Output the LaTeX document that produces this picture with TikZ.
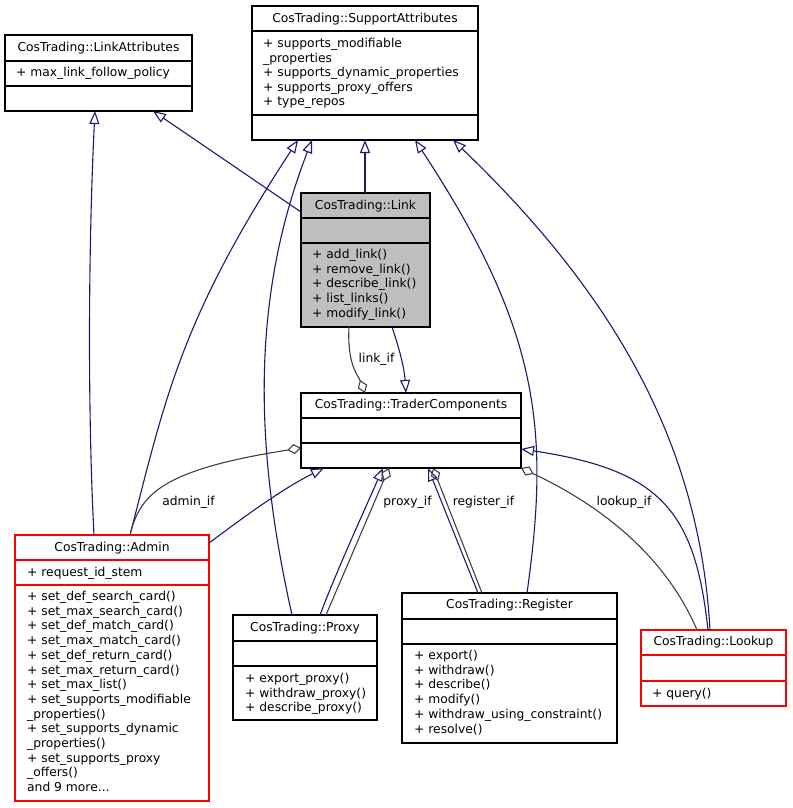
\documentclass[tikz,border=0pt]{standalone}
\usepackage{fontspec}
\setmainfont{DejaVu Sans}
\usetikzlibrary{arrows.meta,calc}
\definecolor{edgeblue}{HTML}{191970}
\definecolor{edgegrey}{HTML}{404040}
\definecolor{linkgrey}{HTML}{BFBFBF}
\definecolor{boxred}{HTML}{FF0000}
\newcommand{\clsep}[2]{\draw[seprule] ($(#1.north west)+(0,#2)$) -- ($(#1.north east)+(0,#2)$);}
\begin{document}
\begin{tikzpicture}[x=1pt,y=-1pt,
  cls/.style={draw=black, fill=white, line width=1.1pt, inner sep=0pt, outer sep=0pt, anchor=north west},
  redcls/.style={cls, draw=boxred},
  seprule/.style={line width=1.1pt},
  txt/.style={font=\fontsize{12.3}{14.7}\selectfont, inner sep=0pt, align=left, anchor=base west},
  ttl/.style={font=\fontsize{12.3}{14.7}\selectfont, inner sep=0pt, anchor=base},
  inh/.style={draw=edgeblue, line width=1.1pt, -{Triangle[open, length=13pt, width=10pt]}},
  agg/.style={draw=edgegrey, line width=1.1pt, -{Diamond[open, length=14pt, width=10pt]}},
]
\useasboundingbox (0,0) rectangle (792,808);

% class boxes
\node[cls, minimum width=226pt, minimum height=134pt] (supp) at (252,6) {};
\clsep{supp}{25}\clsep{supp}{109}
\node[cls, minimum width=187pt, minimum height=76pt] (lattr) at (5,35) {};
\clsep{lattr}{26}\clsep{lattr}{51}
\node[cls, fill=linkgrey, minimum width=129pt, minimum height=134pt] (link) at (301,193) {};
\clsep{link}{25}\clsep{link}{50}
\node[cls, minimum width=220pt, minimum height=75pt] (trader) at (301,393) {};
\clsep{trader}{25}\clsep{trader}{50}
\node[redcls, minimum width=194pt, minimum height=266pt] (admin) at (15,535) {};
\draw[seprule, boxred] ($(admin.north west)+(0,25)$) -- ($(admin.north east)+(0,25)$);
\draw[seprule, boxred] ($(admin.north west)+(0,50)$) -- ($(admin.north east)+(0,50)$);
\node[cls, minimum width=144pt, minimum height=105pt] (proxy) at (233,615) {};
\clsep{proxy}{26}\clsep{proxy}{51}
\node[cls, minimum width=215pt, minimum height=150pt] (reg) at (402,593) {};
\clsep{reg}{26}\clsep{reg}{51}
\node[redcls, minimum width=145pt, minimum height=76pt] (lookup) at (641,630) {};
\draw[seprule, boxred] ($(lookup.north west)+(0,25)$) -- ($(lookup.north east)+(0,25)$);
\draw[seprule, boxred] ($(lookup.north west)+(0,51)$) -- ($(lookup.north east)+(0,51)$);

% texts (multi-line nodes are placed by the baseline of their last line)
\node[ttl] (suppt) at (365,23) {CosTrading::SupportAttributes};
\node[txt, font=\fontsize{12.3}{14.5}\selectfont] (suppa) at (263,105.5) {+ supports\_modifiable\\\_properties\\+ supports\_dynamic\_properties\\+ supports\_proxy\_offers\\+ type\_repos};
\node[ttl] (lattrt) at (98.5,51.5) {CosTrading::LinkAttributes};
\node[txt] (lattra) at (16,76.5) {+ max\_link\_follow\_policy};
\node[ttl] (linkt) at (365.5,209.5) {CosTrading::Link};
\node[txt] (linkm) at (312,317.3) {+ add\_link()\\+ remove\_link()\\+ describe\_link()\\+ list\_links()\\+ modify\_link()};
\node[ttl] (tradert) at (411,408.5) {CosTrading::TraderComponents};
\node[ttl] (admint) at (112,551) {CosTrading::Admin};
\node[txt] (admina) at (27,576.5) {+ request\_id\_stem};
\node[txt] (adminm) at (27,791.6) {+ set\_def\_search\_card()\\+ set\_max\_search\_card()\\+ set\_def\_match\_card()\\+ set\_max\_match\_card()\\+ set\_def\_return\_card()\\+ set\_max\_return\_card()\\+ set\_max\_list()\\+ set\_supports\_modifiable\\\_properties()\\+ set\_supports\_dynamic\\\_properties()\\+ set\_supports\_proxy\\\_offers()\\and 9 more...};
\node[ttl] (proxyt) at (305,631) {CosTrading::Proxy};
\node[txt, font=\fontsize{12.3}{14.5}\selectfont] (proxym) at (245,711.5) {+ export\_proxy()\\+ withdraw\_proxy()\\+ describe\_proxy()};
\node[ttl] (regt) at (509.5,608.5) {CosTrading::Register};
\node[txt] (regm) at (414,733) {+ export()\\+ withdraw()\\+ describe()\\+ modify()\\+ withdraw\_using\_constraint()\\+ resolve()};
\node[ttl] (lookupt) at (713.5,645.5) {CosTrading::Lookup};
\node[txt] (lookupm) at (652,697.5) {+ query()};

% inheritance edges
\draw[inh] ($(admin.north west)+(79,0)$) .. controls (87,400) and (89,230) .. ($(lattr.south west)+(90,0)$);
\draw[inh] ($(link.north west)+(0,19)$) -- ($(lattr.south west)+(148,0)$);
\draw[inh] ($(link.north west)+(64,0)$) -- ($(supp.south west)+(113,0)$);
\draw[inh] ($(admin.north west)+(115,0)$) .. controls (165,400) and (180,320) .. ($(supp.south west)+(46,0)$);
\draw[inh] ($(proxy.north west)+(59,0)$) .. controls (255,450) and (250,300) .. ($(supp.south west)+(60,0)$);
\draw[inh] ($(reg.north west)+(125,0)$) .. controls (550,430) and (540,330) .. ($(supp.south west)+(163,0)$);
\draw[inh] ($(lookup.north west)+(69,0)$) .. controls (700,450) and (620,300) .. ($(supp.south west)+(201,0)$);
\draw[inh] ($(lookup.north west)+(67,0)$) .. controls (695,510) and (660,470) .. ($(trader.north east)+(0,56)$);
\draw[inh] ($(link.south west)+(91,0)$) .. controls (398,345) and (404,365) .. ($(trader.north west)+(105,0)$);
\draw[inh] ($(admin.north east)+(0,8)$) .. controls (240,520) and (280,490) .. ($(trader.south west)+(23,0)$);
\draw[inh] ($(proxy.north west)+(87,0)$) .. controls (335,575) and (360,520) .. ($(trader.south west)+(82,0)$);
\draw[inh] ($(reg.north west)+(76,0)$) -- ($(trader.south west)+(127,0)$);

% aggregation edges
\draw[agg] ($(link.south west)+(48,0)$) .. controls (347,365) and (358,375) .. ($(trader.north west)+(64,0)$);
\draw[agg] ($(admin.north west)+(115,0)$) .. controls (140,495) and (160,470) .. ($(trader.north west)+(0,55)$);
\draw[agg] ($(proxy.north west)+(93,0)$) -- ($(trader.south west)+(88,0)$);
\draw[agg] ($(reg.north west)+(80,0)$) -- ($(trader.south west)+(132,0)$);
\draw[agg] ($(lookup.north west)+(56,0)$) .. controls (665,555) and (600,505) .. (trader.south east);

% edge labels
\node[ttl] (llink) at (376.5,362.5) {link\_if};
\node[ttl] (ladmin) at (188.5,505.5) {admin\_if};
\node[ttl] (lproxy) at (407.5,505.5) {proxy\_if};
\node[ttl] (lreg) at (483.5,505.5) {register\_if};
\node[ttl] (llookup) at (624,505.5) {lookup\_if};
\end{tikzpicture}
\end{document}
